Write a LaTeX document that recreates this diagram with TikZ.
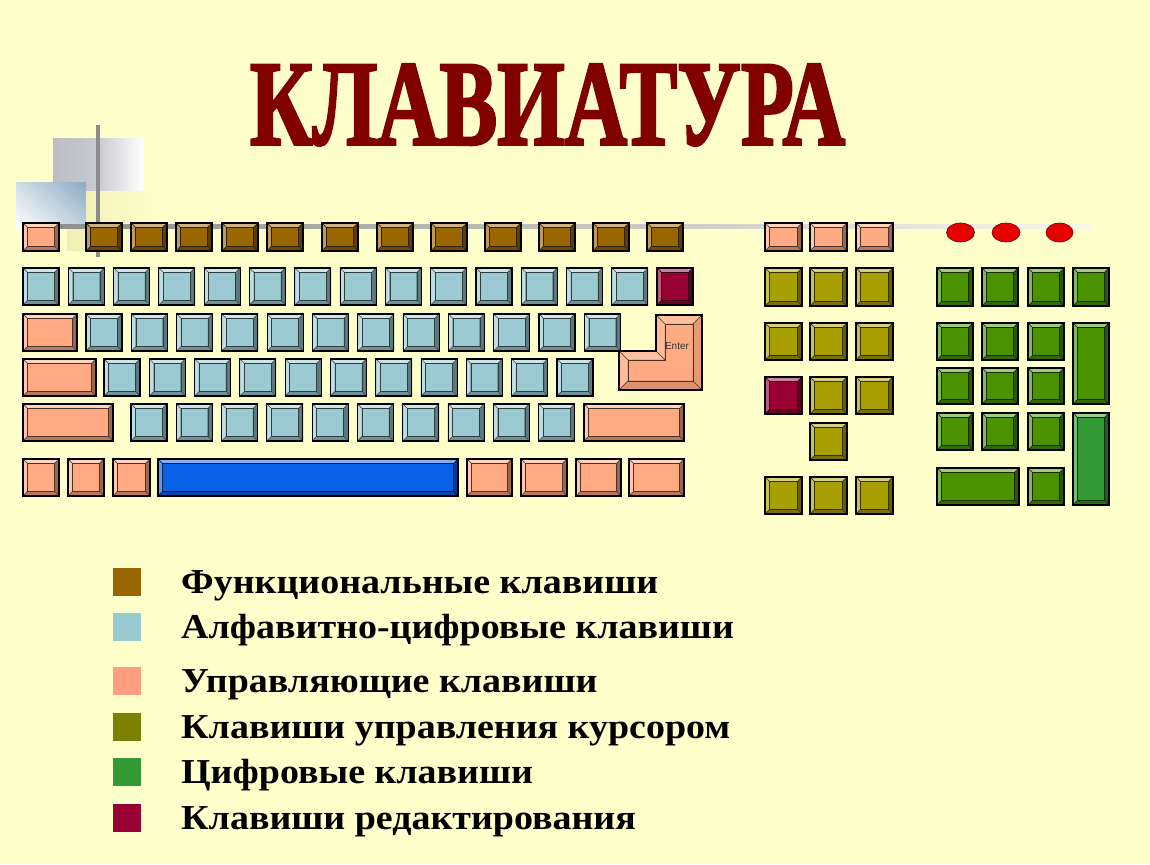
\documentclass[tikz,border=0pt]{standalone}
\usepackage{fontspec}
\setmainfont{Liberation Serif}
\setsansfont{Liberation Sans}
\newfontfamily\titlefont{Liberation Serif}[BoldFeatures={FakeBold=2.5}]
\usepackage{graphicx}
\usepackage{xcolor}
\usepackage{tikz}
\usetikzlibrary{positioning,calc,shadings}

\definecolor{bgyellow}{HTML}{FFFFCC}
\definecolor{titlered}{HTML}{800000}
\definecolor{fnbrown}{HTML}{996600}
\definecolor{alphablue}{HTML}{9CCAD2}
\definecolor{ctrlpink}{HTML}{FFAA82}
\definecolor{cursorolive}{HTML}{A89E00}
\definecolor{numgreen}{HTML}{4A9200}
\definecolor{numgreenb}{HTML}{339933}
\definecolor{editred}{HTML}{990033}
\definecolor{spaceblue}{HTML}{0A60E6}
\definecolor{ledred}{HTML}{E60000}
\definecolor{legblue}{HTML}{99CAD2}
\definecolor{legpink}{HTML}{FF9F80}
\definecolor{legolive}{HTML}{808000}
\definecolor{decoblue}{HTML}{8CAAC2}
\definecolor{decogray}{HTML}{BCBCC4}
\definecolor{decoyellow}{HTML}{F0F0B4}

% one key: [bevel]{x1}{y1}{x2}{y2}{colour}
\newcommand{\keycap}[6][4.5]{%
  \fill[#6] (#2,#3) rectangle (#4,#5);
  \filldraw[fill=#6!50!white, draw=#6!35!black, line width=0.4pt]
    (#2,#3) -- (#4,#3) -- ({#4-#1},{#3+#1}) -- ({#2+#1},{#3+#1}) -- cycle;
  \filldraw[fill=#6!65!white, draw=#6!35!black, line width=0.4pt]
    (#2,#3) -- ({#2+#1},{#3+#1}) -- ({#2+#1},{#5-#1}) -- (#2,#5) -- cycle;
  \filldraw[fill=#6!60!black, draw=#6!35!black, line width=0.4pt]
    (#4,#3) -- (#4,#5) -- ({#4-#1},{#5-#1}) -- ({#4-#1},{#3+#1}) -- cycle;
  \filldraw[fill=#6!72!black, draw=#6!35!black, line width=0.4pt]
    (#2,#5) -- (#4,#5) -- ({#4-#1},{#5-#1}) -- ({#2+#1},{#5-#1}) -- cycle;
  \draw[#6!30!black, line width=0.6pt] ({#2+#1},{#3+#1}) rectangle ({#4-#1},{#5-#1});
  \draw[black, line width=1.1pt] (#2,#3) rectangle (#4,#5);
}

\tikzset{
  legendtext/.style={anchor=base west, inner sep=0pt, font=\bfseries\fontsize{35}{35}\selectfont},
  led/.style={fill=ledred, draw=red!45!black, line width=0.6pt}
}

\begin{document}
\begin{tikzpicture}[x=1pt, y=-1pt]
    \useasboundingbox (0,0) rectangle (1150,864);
    \fill[bgyellow] (0,0) rectangle (1150,864);

    % Decoration in the corner
    \shade[left color=decogray, right color=white, middle color=decogray!80!white] (53,138) rectangle (143,200);
    \shade[left color=decoyellow, right color=bgyellow] (67,191) rectangle (160,250);
    \shade[upper left=decoblue!40!white, upper right=decoblue, lower left=white, lower right=decoblue!55!white]
        (16,182) rectangle (86,228);
    \shade[left color=gray!90, right color=bgyellow!80!gray!30] (30,224) rectangle (1090,228);
    \fill[gray!90] (95.5,125) rectangle (99.5,257);

    % Title
    \node[text=titlered, inner sep=0pt] (title) at (547.5,105)
        {\resizebox{595pt}{80pt}{\titlefont\bfseries КЛАВИАТУРА}};

    % Function row
    \keycap{23}{223}{59}{251}{ctrlpink}
    \foreach \x in {86,131,176,222,267,322,377,431,485,539,593,647} {
        \keycap{\x}{223}{\x+36}{251}{fnbrown}
    }

    % Main block
    \foreach \i in {0,...,13} {
        \keycap{23+45.3*\i}{268}{59+45.3*\i}{305}{alphablue}
    }
    \keycap{657}{268}{693}{305}{editred}

    \keycap{23}{314}{77}{351}{ctrlpink}
    \foreach \i in {0,...,11} {
        \keycap{86+45.3*\i}{314}{122+45.3*\i}{351}{alphablue}
    }

    \keycap{23}{359}{96}{396}{ctrlpink}
    \foreach \i in {0,...,10} {
        \keycap{104+45.3*\i}{359}{140+45.3*\i}{396}{alphablue}
    }

    \keycap{23}{404}{113}{441}{ctrlpink}
    \foreach \i in {0,...,9} {
        \keycap{131+45.3*\i}{404}{167+45.3*\i}{441}{alphablue}
    }
    \keycap{584}{404}{684}{441}{ctrlpink}

    \foreach \x/\w in {23/36,68/36,113/37,467/45,521/46,576/45,629/55} {
        \keycap{\x}{459}{\x+\w}{496}{ctrlpink}
    }
    \keycap{158}{459}{458}{496}{spaceblue}

    % Enter key
    \fill[ctrlpink] (656,315) -- (702,315) -- (702,390) -- (619,390) -- (619,351) -- (656,351) -- cycle;
    \begin{scope}[draw=ctrlpink!35!black, line width=0.4pt]
        \filldraw[fill=ctrlpink!75!white] (656,315) -- (702,315) -- (693,324) -- (665,324) -- cycle;
        \filldraw[fill=ctrlpink!80!white] (656,315) -- (665,324) -- (665,360) -- (656,351) -- cycle;
        \filldraw[fill=ctrlpink!75!white] (619,351) -- (656,351) -- (665,360) -- (628,360) -- cycle;
        \filldraw[fill=ctrlpink!80!white] (619,351) -- (628,360) -- (628,381) -- (619,390) -- cycle;
        \filldraw[fill=ctrlpink!90!black] (702,315) -- (702,390) -- (693,381) -- (693,324) -- cycle;
        \filldraw[fill=ctrlpink!85!black] (619,390) -- (702,390) -- (693,381) -- (628,381) -- cycle;
    \end{scope}
    \draw[ctrlpink!30!black, line width=0.6pt] (665,324) -- (693,324) -- (693,381) -- (628,381) -- (628,360) -- (665,360) -- cycle;
    \draw[black, line width=1.1pt] (656,315) -- (702,315) -- (702,390) -- (619,390) -- (619,351) -- (656,351) -- cycle;
    \node[font=\sffamily\fontsize{10}{10}\selectfont, text=black!80, inner sep=0pt] (entertext) at (677,346) {Enter};

    % Cursor block
    \foreach \x in {765,810,856} {
        \keycap{\x}{223}{\x+37}{251}{ctrlpink}
        \keycap{\x}{268}{\x+37}{306}{cursorolive}
        \keycap{\x}{323}{\x+37}{360}{cursorolive}
        \keycap{\x}{477}{\x+37}{514}{cursorolive}
    }
    \keycap{765}{377}{802}{414}{editred}
    \keycap{810}{377}{847}{414}{cursorolive}
    \keycap{856}{377}{893}{414}{cursorolive}
    \keycap{810}{423}{847}{460}{cursorolive}

    % Indicators
    \filldraw[led] (960.5,232.5) ellipse (14 and 9.5);
    \filldraw[led] (1006,232.5) ellipse (14 and 9.5);
    \filldraw[led] (1059.5,232.5) ellipse (13.5 and 9.5);

    % Numeric pad
    \foreach \x in {937,982,1028,1073} {
        \keycap{\x}{268}{\x+36}{306}{numgreen}
    }
    \foreach \x in {937,982,1028} {
        \keycap{\x}{323}{\x+36}{360}{numgreen}
        \keycap{\x}{368}{\x+36}{404}{numgreen}
        \keycap{\x}{413}{\x+36}{450}{numgreen}
    }
    \keycap{1073}{323}{1109}{404}{numgreen}
    \keycap{1073}{413}{1109}{505}{numgreenb}
    \keycap{937}{468}{1019}{505}{numgreen}
    \keycap{1028}{468}{1064}{505}{numgreen}

    % Legend
    \foreach \c/\yc/\txt [count=\i] in {fnbrown/582/Функциональные клавиши,
            legblue/627/Алфавитно-цифровые клавиши,
            legpink/681/Управляющие клавиши,
            legolive/727/Клавиши управления курсором,
            numgreenb/772/Цифровые клавиши,
            editred/817.5/Клавиши редактирования} {
        \fill[\c] (113,\yc-14) rectangle (141,\yc+14);
        \node[legendtext] (legend\i) at (181,\yc+11.5) {\scalebox{1.085}[1]{\txt}};
    }
\end{tikzpicture}
\end{document}
